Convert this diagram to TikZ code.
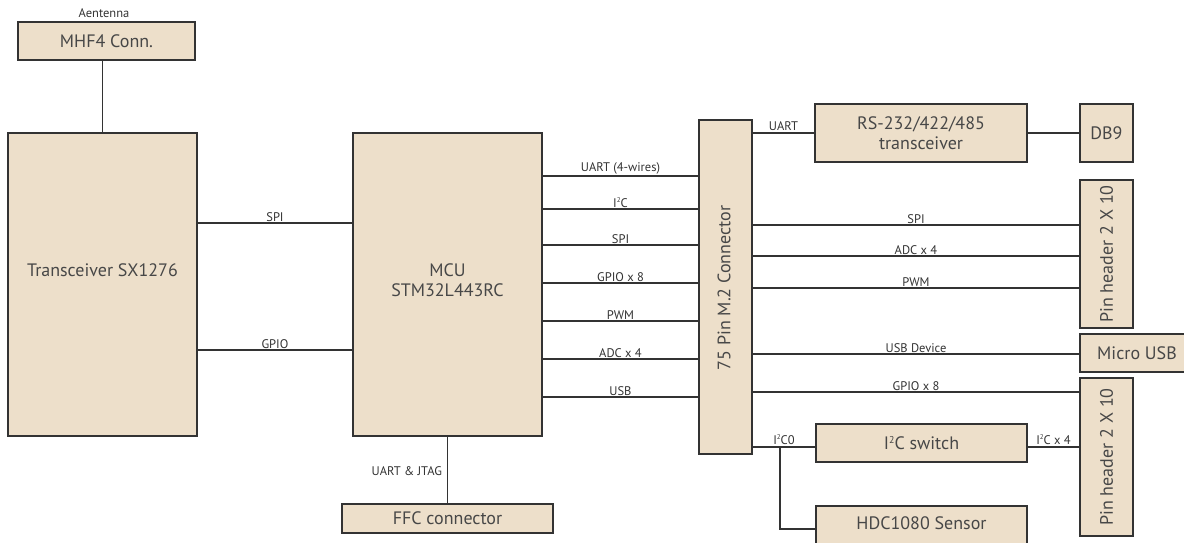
\documentclass[tikz,border=0pt]{standalone}
\usepackage{fontspec}
\usepackage{graphicx}
\setmainfont{PT Sans}
\definecolor{boxfill}{HTML}{EDDFCA}
\definecolor{edge}{HTML}{333333}
\newcommand\twosup{\raisebox{0.75ex}{\scalebox{0.55}{2}}}
\begin{document}
\begin{tikzpicture}[x=1pt,y=-1pt,
  blk/.style={draw=edge,fill=boxfill,line width=1.3pt,inner sep=0pt,font=\fontsize{18}{20}\selectfont,align=center,text=edge!90},
  wire/.style={draw=edge,line width=1.1pt},
  lbl/.style={font=\fontsize{12.5}{14}\selectfont,text=edge,inner sep=1pt,anchor=south},
  big/.style={font=\fontsize{18}{20}\selectfont,text=edge!90,align=center}]
\useasboundingbox (0,0) rectangle (1184,543);
\clip (0,0) rectangle (1184,543);
% boxes
\node[blk,minimum width=177pt,minimum height=38pt] (mhf) at (106.5,41) {MHF4 Conn.};
\node[blk,minimum width=189pt,minimum height=303pt] (sx) at (102.5,284.5) {};
\node[big] (sxt) at (102.5,270) {Transceiver SX1276};
\node[blk,minimum width=189pt,minimum height=303pt] (mcu) at (447.5,284.5) {};
\node[big] (mcut) at (447.5,280) {MCU\\STM32L443RC};
\node[blk,minimum width=53pt,minimum height=334pt] (conn) at (725.5,287) {};
\node[big,rotate=90] (connt) at (724,288) {75 Pin M.2 Connector};
\node[blk,minimum width=212pt,minimum height=58pt] (rs) at (921,133) {RS-232/422/485\\transceiver};
\node[blk,minimum width=53pt,minimum height=58pt] (db9) at (1106.5,133) {DB9};
\node[blk,minimum width=53pt,minimum height=148pt] (ph1) at (1106.5,254) {};
\node[big,rotate=90] (ph1t) at (1106.5,254) {Pin header 2 X 10};
\node[blk,minimum width=112pt,minimum height=38pt] (musb) at (1136,353) {};
\node[big] (musbt) at (1137,353) {Micro USB};
\node[blk,minimum width=53pt,minimum height=158pt] (ph2) at (1106.5,457) {};
\node[big,rotate=90] (ph2t) at (1106.5,457) {Pin header 2 X 10};
\node[blk,minimum width=211pt,minimum height=38pt] (i2c) at (921.5,443) {I\twosup C switch};
\node[blk,minimum width=211pt,minimum height=40pt] (hdc) at (921.5,526) {};
\node[big] (hdct) at (921.5,523) {HDC1080 Sensor};
\node[blk,minimum width=211pt,minimum height=29pt] (ffc) at (447.5,518.5) {FFC connector};
% antenna
\node[lbl,anchor=center] (ant) at (104,13) {Aentenna};
\draw[wire] (sx.north) -- (sx.north |- mhf.south);
% SX - MCU
\draw[wire] (sx.east |- 0,223) -- node[lbl,pos=0.5] {SPI} (mcu.west |- 0,223);
\draw[wire] (sx.east |- 0,350) -- node[lbl,pos=0.5] {GPIO} (mcu.west |- 0,350);
% MCU - connector
\draw[wire] (mcu.east |- 0,176) -- node[lbl] {UART (4-wires)} (conn.west |- 0,176);
\draw[wire] (mcu.east |- 0,209) -- node[lbl] {I\twosup C} (conn.west |- 0,209);
\draw[wire] (mcu.east |- 0,245) -- node[lbl] {SPI} (conn.west |- 0,245);
\draw[wire] (mcu.east |- 0,283) -- node[lbl] {GPIO x 8} (conn.west |- 0,283);
\draw[wire] (mcu.east |- 0,321) -- node[lbl] {PWM} (conn.west |- 0,321);
\draw[wire] (mcu.east |- 0,359) -- node[lbl] {ADC x 4} (conn.west |- 0,359);
\draw[wire] (mcu.east |- 0,397) -- node[lbl] {USB} (conn.west |- 0,397);
% MCU - FFC
\draw[wire] (mcu.south) -- node[lbl,anchor=east,pos=0.52,xshift=-4pt] {UART \& JTAG} (ffc.north);
% right side
\draw[wire] (conn.east |- rs.west) -- node[lbl,pos=0.5,yshift=1pt] {UART} (rs.west);
\draw[wire] (rs.east) -- (db9.west);
\draw[wire] (conn.east |- 0,225) -- node[lbl] {SPI} (ph1.west |- 0,225);
\draw[wire] (conn.east |- 0,256) -- node[lbl] {ADC x 4} (ph1.west |- 0,256);
\draw[wire] (conn.east |- 0,288) -- node[lbl] {PWM} (ph1.west |- 0,288);
\draw[wire] (conn.east |- 0,354) -- node[lbl] {USB Device} (musb.west |- 0,354);
\draw[wire] (conn.east |- 0,392) -- node[lbl] {GPIO x 8} (ph2.west |- 0,392);
\draw[wire] (conn.east |- 0,447) -- node[lbl,pos=0.5,yshift=1pt] {I\twosup C0} (i2c.west |- 0,447);
\draw[wire] (i2c.east |- 0,447) -- node[lbl,pos=0.5,yshift=1pt] {I\twosup C x 4} (ph2.west |- 0,447);
\coordinate (br) at (780,447);
\draw[wire] (br) |- (hdc.west |- 0,529);
\end{tikzpicture}
\end{document}
